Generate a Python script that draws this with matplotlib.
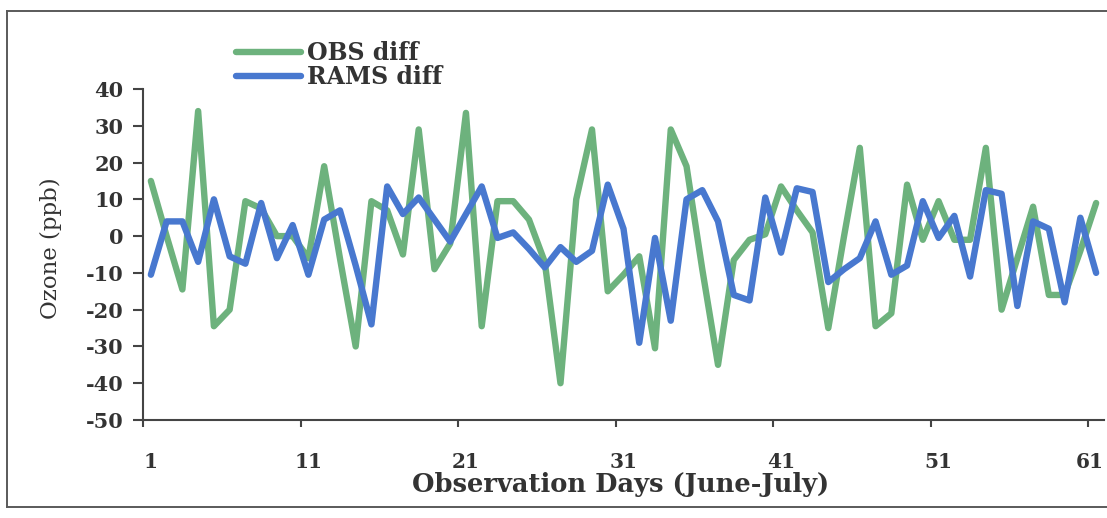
import matplotlib
matplotlib.use("Agg")
import matplotlib.pyplot as plt
from matplotlib.lines import Line2D
from matplotlib.transforms import ScaledTranslation

plt.rcParams['font.family'] = ['DejaVu Serif']
plt.rcParams['axes.unicode_minus'] = False

days = list(range(1, 62))

obs_diff = [15, 0, -14.5, 34, -24.5, -20, 9.5, 7.5, 0, 0,
            -6, 19, -6, -30, 9.5, 7, -5, 29, -9, -2,
            33.5, -24.5, 9.5, 9.5, 4.5, -7, -40, 10, 29, -15,
            -10.5, -5.5, -30.5, 29, 19, -9, -35, -6.5, -1, 0.5,
            13.5, 7, 1, -25, 0, 24, -24.5, -21, 14, -1,
            9.5, -1, -1, 24, -20, -6, 8, -16, -16, -4,
            9]

rams_diff = [-10.5, 4, 4, -7, 10, -5.5, -7.5, 9, -6, 3,
             -10.5, 4.5, 7, -8, -24, 13.5, 6, 10.5, 4.5, -1.5,
             6, 13.5, -0.5, 1, -3.5, -8.5, -3, -7, -4, 14,
             2, -29, -0.5, -23, 10, 12.5, 4, -16, -17.5, 10.5,
             -4.5, 13, 12, -12.5, -9, -6, 4, -10.5, -8, 9.5,
             -0.5, 5.5, -11, 12.5, 11.5, -19, 4, 2, -18, 5,
             -10]

series_names = ["OBS diff", "RAMS diff"]
x_tick_labels = ["1", "11", "21", "31", "41", "51", "61"]
y_ticks = [-50, -40, -30, -20, -10, 0, 10, 20, 30, 40]

W, H = 1107, 518
fig = plt.figure(figsize=(W / 100, H / 100), dpi=100)
fig.patch.set_facecolor("white")

# chart-area border (left, top, bottom edges)
border_kw = dict(color="#5a5a5a", lw=1.4, transform=fig.transFigure)
fig.add_artist(Line2D([7 / W, 7 / W], [1 - 507 / H, 1 - 11 / H], **border_kw))
fig.add_artist(Line2D([7 / W, 1.0], [1 - 11 / H, 1 - 11 / H], **border_kw))
fig.add_artist(Line2D([7 / W, 1.0], [1 - 507 / H, 1 - 507 / H], **border_kw))

left, right, top, bottom = 143, 1104, 89, 420
ax = fig.add_axes([left / W, 1 - bottom / H, (right - left) / W, (bottom - top) / H])

green = "#6db27d"
blue = "#4878cf"
lw = 4.6
ax.plot(days, obs_diff, color=green, lw=lw, label=series_names[0],
        solid_joinstyle="round", solid_capstyle="round", zorder=2)
ax.plot(days, rams_diff, color=blue, lw=lw, label=series_names[1],
        solid_joinstyle="round", solid_capstyle="round", zorder=3)

ax.set_xlim(0.5, 61.5)
ax.set_ylim(-50, 40)

for s in ["top", "right"]:
    ax.spines[s].set_visible(False)
for s in ["left", "bottom"]:
    ax.spines[s].set_color("#444444")
    ax.spines[s].set_linewidth(1.5)

text_color = "#333333"

# y axis
ax.set_yticks(y_ticks)
ax.tick_params(axis="y", direction="out", length=7, width=1.5, color="#444444",
               pad=7, labelsize=15, labelcolor=text_color)
plt.setp(ax.get_yticklabels(), fontweight="bold")

# x axis: tick marks between categories, labels on categories
label_pos = [int(t) for t in x_tick_labels]
ax.set_xticks([p - 0.5 for p in label_pos])
ax.set_xticklabels([])
ax.set_xticks(label_pos, minor=True)
ax.set_xticklabels(x_tick_labels, minor=True)
ax.tick_params(axis="x", which="major", direction="out", length=5, width=1.5,
               color="#444444")
ax.tick_params(axis="x", which="minor", length=0, pad=23, labelsize=14.5,
               labelcolor=text_color)
xlabels = ax.get_xticklabels(minor=True)
plt.setp(xlabels, fontweight="bold")
# keep the last day label inside the chart area
last = xlabels[-1]
last.set_transform(last.get_transform() + ScaledTranslation(-6 / 100, 0, fig.dpi_scale_trans))

ax.set_xlabel("Observation Days (June-July)", fontsize=18.5, fontweight="bold",
              color=text_color)
ax.xaxis.set_label_coords((621 - left) / (right - left), (bottom - 472) / (bottom - top))
ax.xaxis.label.set_va("top")

ax.set_ylabel("Ozone (ppb)", fontsize=16.5, color=text_color)
ax.yaxis.set_label_coords((51 - left) / (right - left), (bottom - 248) / (bottom - top))
ax.yaxis.label.set_va("center")

ax.legend(loc="upper left", bbox_to_anchor=(236 / W, 1 - 41 / H),
          bbox_transform=fig.transFigure, frameon=False,
          prop={"family": "DejaVu Serif", "weight": "bold", "size": 17},
          handlelength=2.75, handletextpad=0.25, labelspacing=0.0,
          borderpad=0, borderaxespad=0, labelcolor=text_color)

fig.savefig("out.png", dpi=100, facecolor="white")
